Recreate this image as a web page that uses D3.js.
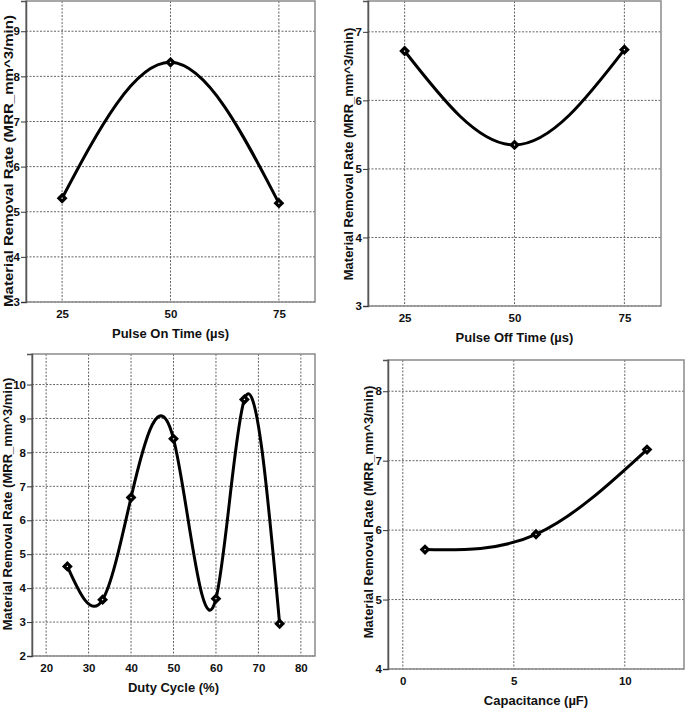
<!DOCTYPE html>
<html><head><meta charset="utf-8">
<script src="https://cdn.jsdelivr.net/npm/d3@7"></script>
<style>
body{margin:0;background:#fff;}
svg text{font-family:"Liberation Sans",Arial,sans-serif;font-weight:bold;fill:#111;}
</style></head>
<body><svg id="c" width="685" height="709"></svg>
<script>
// ---- data ----
const pulseOnX = [25, 50, 75];
const pulseOnY = [5.30, 8.31, 5.19];
const pulseOffX = [25, 50, 75];
const pulseOffY = [6.72, 5.35, 6.74];
const dutyX = [25, 33.3, 40, 50, 60, 66.7, 75];
const dutyY = [4.64, 3.66, 6.67, 8.40, 3.69, 9.56, 2.95];
const capX = [1, 6, 11];
const capY = [5.72, 5.94, 7.16];

const ticksPulseX = [25, 50, 75];
const ticksPulseOnY = [3, 4, 5, 6, 7, 8, 9];
const ticksPulseOffY = [3, 4, 5, 6, 7];
const ticksDutyX = [20, 30, 40, 50, 60, 70, 80];
const ticksDutyY = [2, 3, 4, 5, 6, 7, 8, 9, 10];
const ticksCapX = [0, 5, 10];
const ticksCapY = [4, 5, 6, 7, 8];

const yTitle = "Material Removal Rate (MRR_mm^3/min)";

// natural cubic spline in x (SPSS-style spline interpolation) as a d3 curve
function curveNaturalX(context) {
  let xs = [], ys = [];
  return {
    areaStart(){}, areaEnd(){},
    lineStart(){ xs = []; ys = []; },
    point(x, y){ xs.push(+x); ys.push(+y); },
    lineEnd(){
      const n = xs.length;
      if (!n) return;
      context.moveTo(xs[0], ys[0]);
      if (n === 1) return;
      if (n === 2) { context.lineTo(xs[1], ys[1]); return; }
      const h = [], M = new Array(n).fill(0);
      for (let i = 0; i < n - 1; i++) h.push(xs[i+1] - xs[i]);
      const a = [], b = [], c = [], d = [];
      for (let i = 1; i < n - 1; i++) {
        a.push(h[i-1]); b.push(2*(h[i-1]+h[i])); c.push(h[i]);
        d.push(6*((ys[i+1]-ys[i])/h[i] - (ys[i]-ys[i-1])/h[i-1]));
      }
      const m = b.length;
      for (let i = 1; i < m; i++) {
        const w = a[i]/b[i-1];
        b[i] -= w*c[i-1]; d[i] -= w*d[i-1];
      }
      const sol = new Array(m);
      sol[m-1] = d[m-1]/b[m-1];
      for (let i = m-2; i >= 0; i--) sol[i] = (d[i]-c[i]*sol[i+1])/b[i];
      for (let i = 0; i < m; i++) M[i+1] = sol[i];
      for (let i = 0; i < n - 1; i++) {
        const hi = h[i];
        const s0 = (ys[i+1]-ys[i])/hi - hi*(2*M[i]+M[i+1])/6;
        const s1 = (ys[i+1]-ys[i])/hi + hi*(M[i]+2*M[i+1])/6;
        context.bezierCurveTo(xs[i]+hi/3, ys[i]+s0*hi/3, xs[i+1]-hi/3, ys[i+1]-s1*hi/3, xs[i+1], ys[i+1]);
      }
    }
  };
}

const svg = d3.select("#c");

function panel(cfg) {
  const {box, xDom, yDom, xs, ys, xTicks, yTicks, xTitle, yTitleX, yTitleY, yTitleLen} = cfg;
  const g = svg.append("g");
  const x = d3.scaleLinear().domain(xDom).range([box.l, box.r]);
  const y = d3.scaleLinear().domain(yDom).range([box.b, box.t]);
  // grid
  g.append("g").selectAll("line").data(xTicks).join("line")
    .attr("x1", d => x(d)).attr("x2", d => x(d)).attr("y1", box.t).attr("y2", box.b)
    .attr("stroke", "#666").attr("stroke-width", 1).attr("stroke-dasharray", "2,1.5");
  g.append("g").selectAll("line").data(yTicks).join("line")
    .attr("y1", d => y(d)).attr("y2", d => y(d)).attr("x1", box.l).attr("x2", box.r)
    .attr("stroke", "#666").attr("stroke-width", 1).attr("stroke-dasharray", "2,1.5");
  // frame
  g.append("rect").attr("x", box.l).attr("y", box.t).attr("width", box.r - box.l).attr("height", box.b - box.t)
    .attr("fill", "none").attr("stroke", "#8a8a8a").attr("stroke-width", 1.5);
  // y axis
  const ya = g.append("g").attr("transform", `translate(${box.l},0)`)
    .call(d3.axisLeft(y).tickValues(yTicks).tickSize(5).tickPadding(1).tickFormat(d3.format("d")));
  ya.select(".domain").attr("stroke", "#555").attr("stroke-width", 1.5);
  ya.selectAll(".tick line").attr("stroke", "#333");
  ya.selectAll("text").attr("font-size", 11.5).style("font-family", "'Liberation Sans',Arial,sans-serif").style("font-weight", "bold").attr("fill", "#111");
  // x axis labels
  const xa = g.append("g").attr("transform", `translate(0,${box.b})`)
    .call(d3.axisBottom(x).tickValues(xTicks).tickSize(0).tickPadding(8).tickFormat(d3.format("d")));
  xa.select(".domain").remove();
  xa.selectAll("text").attr("font-size", 11.5).style("font-family", "'Liberation Sans',Arial,sans-serif").style("font-weight", "bold").attr("fill", "#111");
  // titles
  g.append("text").attr("x", (box.l + box.r) / 2).attr("y", box.b + 36)
    .attr("text-anchor", "middle").attr("font-size", 13).text(xTitle);
  const yt = g.append("text").attr("transform", `translate(${yTitleX},${yTitleY}) rotate(-90)`)
    .attr("text-anchor", "middle").attr("font-size", 13).text(yTitle);
  if (yTitleLen) yt.attr("textLength", yTitleLen).attr("lengthAdjust", "spacingAndGlyphs");
  // curve
  const pts = xs.map((v, i) => [v, ys[i]]);
  g.append("path").datum(pts)
    .attr("d", d3.line().x(d => x(d[0])).y(d => y(d[1])).curve(curveNaturalX))
    .attr("fill", "none").attr("stroke", "#000").attr("stroke-width", 3);
  g.append("g").selectAll("path").data(pts).join("path")
    .attr("d", d3.symbol().type(d3.symbolSquare).size(20))
    .attr("transform", d => `translate(${x(d[0])},${y(d[1])}) rotate(45)`)
    .attr("fill", "#fff").attr("stroke", "#000").attr("stroke-width", 3.2);
}

panel({box:{l:26,r:315,t:1,b:302}, xDom:[16.67,83.33], yDom:[3,9.67],
  xs:pulseOnX, ys:pulseOnY, xTicks:ticksPulseX, yTicks:ticksPulseOnY,
  xTitle:"Pulse On Time (µs)", yTitleX:13, yTitleY:161, yTitleLen:292});
panel({box:{l:368,r:661,t:1,b:306}, xDom:[16.67,83.33], yDom:[3,7.45],
  xs:pulseOffX, ys:pulseOffY, xTicks:ticksPulseX, yTicks:ticksPulseOffY,
  xTitle:"Pulse Off Time (µs)", yTitleX:353, yTitleY:154});
panel({box:{l:32,r:315,t:354,b:656}, xDom:[16.67,83.33], yDom:[2,10.9],
  xs:dutyX, ys:dutyY, xTicks:ticksDutyX, yTicks:ticksDutyY,
  xTitle:"Duty Cycle (%)", yTitleX:12, yTitleY:504});
panel({box:{l:388,r:684,t:360,b:669}, xDom:[-0.667,12.667], yDom:[4,8.45],
  xs:capX, ys:capY, xTicks:ticksCapX, yTicks:ticksCapY,
  xTitle:"Capacitance (µF)", yTitleX:373, yTitleY:512});
</script></body></html>
